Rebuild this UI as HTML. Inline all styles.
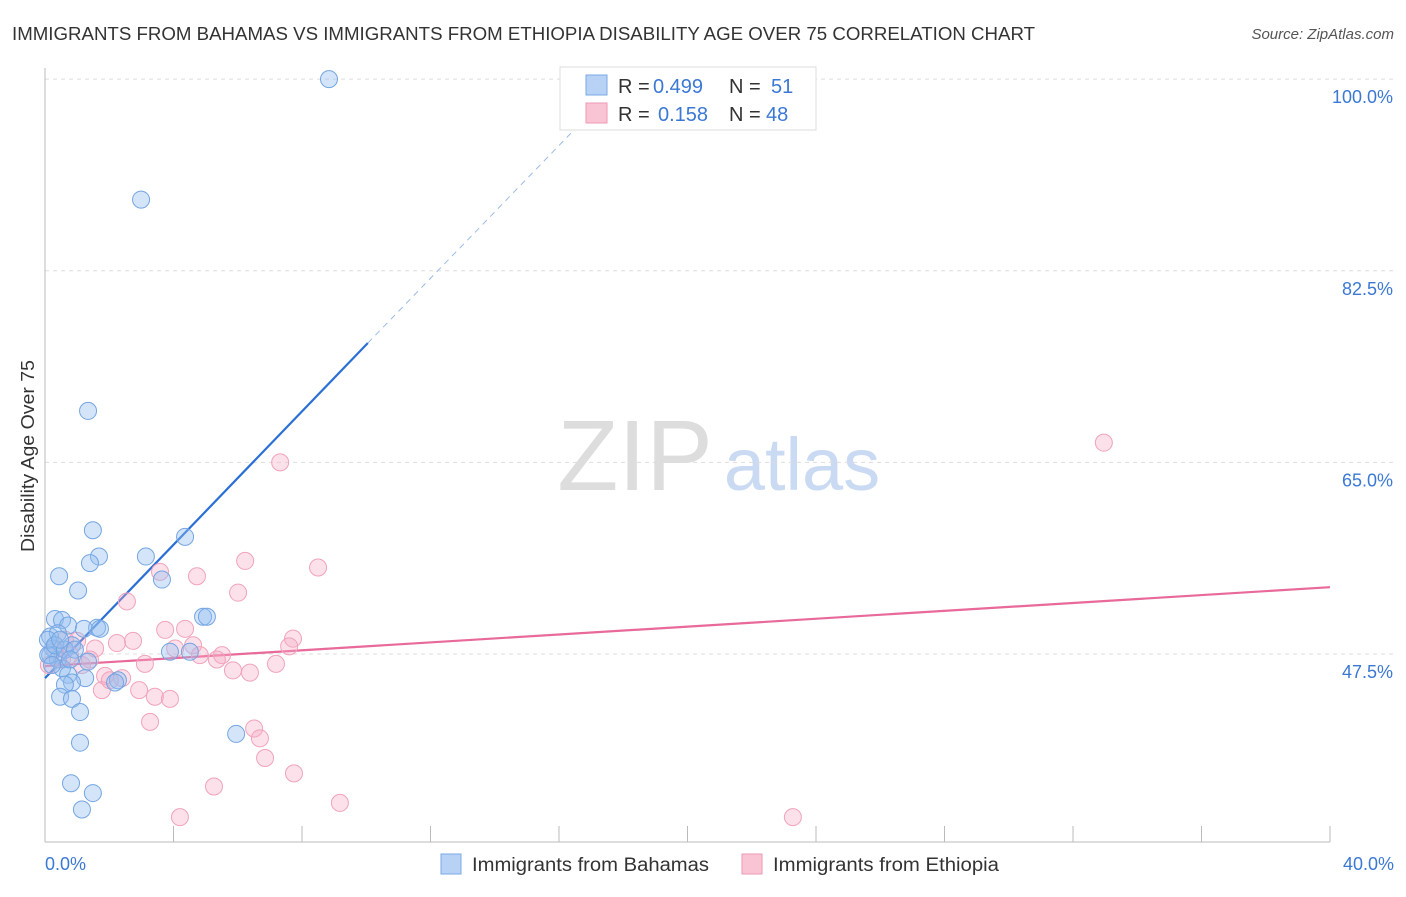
<!DOCTYPE html>
<html><head><meta charset="utf-8"><style>
body{margin:0;background:#fff;font-family:"Liberation Sans",sans-serif;}
svg text{font-family:"Liberation Sans",sans-serif;}
</style></head><body>
<svg id="chart" width="1406" height="892">
<text x="12" y="40" font-size="18" fill="#333" textLength="1023" lengthAdjust="spacingAndGlyphs">IMMIGRANTS FROM BAHAMAS VS IMMIGRANTS FROM ETHIOPIA DISABILITY AGE OVER 75 CORRELATION CHART</text>
<text x="1394" y="39" font-size="15" fill="#555" text-anchor="end" font-style="italic">Source: ZipAtlas.com</text>
<text transform="translate(34,456) rotate(-90)" font-size="18" fill="#333" text-anchor="middle" textLength="192" lengthAdjust="spacingAndGlyphs">Disability Age Over 75</text>
<g><text x="635" y="490" font-size="100" fill="#ddd" font-family="Liberation Serif" text-anchor="middle">ZIP</text><text x="802" y="490" font-size="74" fill="#c9daf2" text-anchor="middle">atlas</text></g>
<g id="grid"></g><g id="axes"></g><g id="lines"></g><g id="pts"></g>
<g>
<rect x="560" y="67" width="256" height="63" fill="#fff" stroke="#ddd"/>
<rect x="586" y="75" width="21" height="20" fill="#b8d2f5" stroke="#7aa8e6"/>
<rect x="586" y="103" width="21" height="20" fill="#f9c4d4" stroke="#ef9ab5"/>
<text x="618" y="93" font-size="20" fill="#333">R =</text><text x="653" y="93" font-size="20" fill="#3b78d4">0.499</text>
<text x="729" y="93" font-size="20" fill="#333">N =</text><text x="771" y="93" font-size="20" fill="#3b78d4">51</text>
<text x="618" y="121" font-size="20" fill="#333">R =</text><text x="658" y="121" font-size="20" fill="#3b78d4">0.158</text>
<text x="729" y="121" font-size="20" fill="#333">N =</text><text x="766" y="121" font-size="20" fill="#3b78d4">48</text>
</g>
<g>
<rect x="441" y="854" width="20" height="20" fill="#b8d2f5" stroke="#7aa8e6"/>
<text x="472" y="871" font-size="19" fill="#333" textLength="237" lengthAdjust="spacingAndGlyphs">Immigrants from Bahamas</text>
<rect x="742" y="854" width="20" height="20" fill="#f9c4d4" stroke="#ef9ab5"/>
<text x="773" y="871" font-size="19" fill="#333" textLength="226" lengthAdjust="spacingAndGlyphs">Immigrants from Ethiopia</text>
</g>
</svg>
<script>
const blueX=[8.84,2.99,1.34,1.49,1.68,1.40,3.14,4.36,0.44,3.64,1.03,0.31,0.53,0.72,1.62,1.21,0.16,0.40,0.84,0.25,0.16,0.40,1.34,0.53,0.72,1.25,0.84,0.62,2.27,3.89,4.51,4.92,5.04,0.47,0.84,1.09,1.09,5.95,0.81,1.49,1.15,0.1,0.09,0.31,0.62,1.71,0.22,0.47,0.93,2.18,0.78];
const blueY=[100.0,89.0,69.7,58.8,56.4,55.8,56.4,58.2,54.6,54.3,53.3,50.7,50.6,50.1,49.9,49.8,49.1,49.4,48.3,48.0,47.4,47.0,46.8,46.2,45.6,45.3,44.9,44.7,45.1,47.7,47.7,50.9,50.9,43.6,43.4,42.2,39.4,40.2,35.7,34.8,33.3,47.4,48.8,48.3,47.9,49.8,46.5,48.8,47.9,44.9,47.0];
const pinkX=[32.96,7.32,6.23,8.50,4.73,3.58,6.01,2.55,3.74,4.36,7.72,7.60,2.74,2.24,1.56,4.61,1.00,4.05,5.51,5.35,3.11,7.19,5.85,6.38,1.15,1.87,2.40,0.53,1.77,2.93,3.42,3.89,3.27,6.51,6.69,6.85,7.75,5.26,9.18,4.20,23.28,0.62,0.78,0.31,2.02,1.40,0.12,4.82];
const pinkY=[66.8,65.0,56.0,55.4,54.6,55.0,53.1,52.3,49.7,49.8,48.9,48.2,48.7,48.5,48.0,48.3,48.7,48.0,47.4,47.0,46.6,46.6,46.0,45.8,46.5,45.5,45.3,47.0,44.2,44.2,43.6,43.4,41.3,40.7,39.8,38.0,36.6,35.4,33.9,32.6,32.6,48.8,47.4,47.9,45.1,47.0,46.5,47.4];
const yTicks=[47.5,65.0,82.5,100.0];
const yTickLabels=["47.5%","65.0%","82.5%","100.0%"];
const xTickLabels=["0.0%","40.0%"];
const blueTrend=[[0,45.3],[10.05,75.9],[18.0,100.0]];
const pinkTrend=[[0,46.4],[40,53.6]];
const NS="http://www.w3.org/2000/svg";
const sx=v=>45+v*32.125, sy=v=>654-(v-47.5)*10.95;
function mk(p,t,a){const e=document.createElementNS(NS,t);for(const k in a)e.setAttribute(k,a[k]);p.appendChild(e);return e;}
const grid=document.getElementById('grid'),axes=document.getElementById('axes'),lines=document.getElementById('lines'),pts=document.getElementById('pts');
yTicks.forEach((t,i)=>{
 const g=mk(grid,'line',{x1:45,x2:1394,y1:sy(t),y2:sy(t),stroke:'#ddd','stroke-dasharray':'4,4'});
 
 
 const tx=mk(axes,'text',{x:1393,y:sy(t)+24,'font-size':18,fill:'#3b78d4','text-anchor':'end'});
 tx.textContent=yTickLabels[i];
 
 
});
const ya=mk(axes,'line',{x1:45,x2:45,y1:68,y2:842,stroke:'#bbb'});


const xa=mk(axes,'line',{x1:45,x2:1330,y1:842,y2:842,stroke:'#bbb'});


for(let i=0;i<=10;i++){const tk=mk(axes,'line',{x1:sx(i*4),x2:sx(i*4),y1:826,y2:842,stroke:'#bbb'});
 
 }
[[0,'start',45],[40,'end',1394]].forEach((d,i)=>{const tx=mk(axes,'text',{x:d[2],y:870,'font-size':18,fill:'#3b78d4','text-anchor':d[1]});
 tx.textContent=xTickLabels[i];
 
 });
function dot(x,y,f,s,n){const c=mk(pts,'circle',{cx:sx(x),cy:sy(y),r:8.5,fill:f,stroke:s,'stroke-width':1});
 
 }
pinkX.forEach((x,i)=>dot(x,pinkY[i],'rgba(246,170,195,0.35)','#f0a3bc','ethiopia-point'));
blueX.forEach((x,i)=>dot(x,blueY[i],'rgba(147,190,240,0.4)','#74a5e2','bahamas-point'));
const bl=mk(lines,'line',{x1:sx(blueTrend[0][0]),y1:sy(blueTrend[0][1]),x2:sx(blueTrend[1][0]),y2:sy(blueTrend[1][1]),stroke:'#2a6fd6','stroke-width':2.2});


const bd=mk(lines,'line',{x1:sx(blueTrend[1][0]),y1:sy(blueTrend[1][1]),x2:sx(blueTrend[2][0]),y2:sy(blueTrend[2][1]),stroke:'#9bbbe8','stroke-width':1,'stroke-dasharray':'6,5'});


const pl=mk(lines,'line',{x1:sx(pinkTrend[0][0]),y1:sy(pinkTrend[0][1]),x2:sx(pinkTrend[1][0]),y2:sy(pinkTrend[1][1]),stroke:'#e8699a','stroke-width':2.2});


</script>
</body></html>
